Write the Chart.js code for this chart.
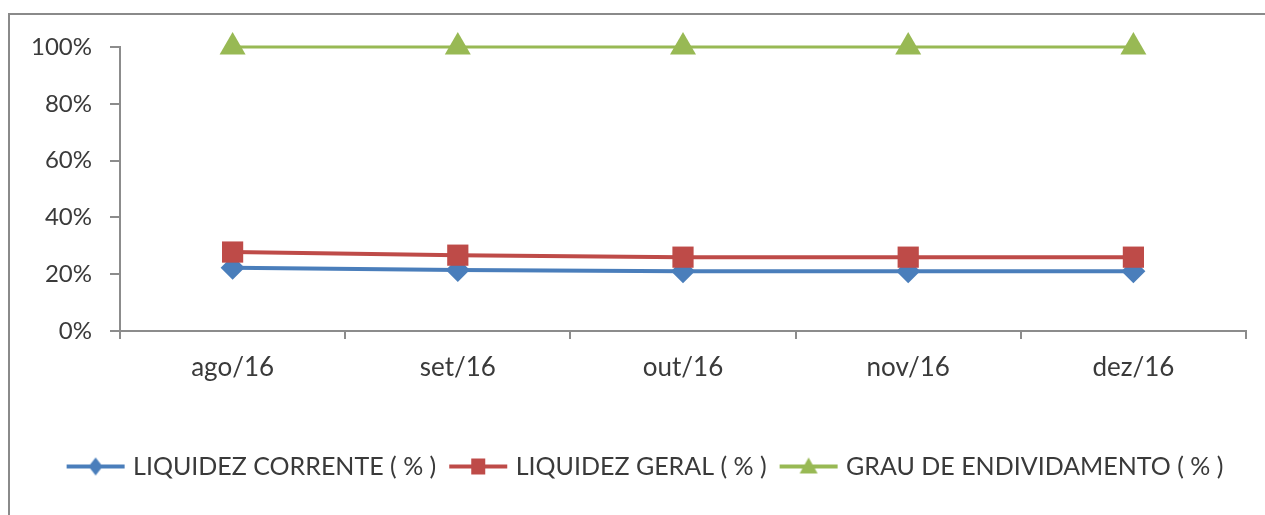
<!DOCTYPE html>
<html><head><meta charset="utf-8">
<script src="https://cdn.jsdelivr.net/npm/chart.js@4.4.1/dist/chart.umd.min.js"></script>
<style>
html,body{margin:0;padding:0;background:#fff;width:1265px;height:515px;overflow:hidden}
#frame{position:absolute;left:8px;top:13px;width:1400px;height:700px;border-left:2px solid #8a8a8a;border-top:2px solid #8a8a8a}
#wrap{position:absolute;left:0;top:0;width:1265px;height:515px}
</style></head><body>
<div id="frame"></div>
<div id="wrap"><canvas id="c" width="1265" height="515"></canvas></div>
<script>
const categories = ['ago/16', 'set/16', 'out/16', 'nov/16', 'dez/16'];
const liquidezCorrente = [22.3, 21.5, 21, 21, 21];
const liquidezGeral = [27.8, 26.7, 26, 26, 26];
const grauEndividamento = [100, 100, 100, 100, 100];
const seriesNames = ['LIQUIDEZ CORRENTE ( % )', 'LIQUIDEZ GERAL ( % )', 'GRAU DE ENDIVIDAMENTO ( % )'];
const yTickValues = [0, 20, 40, 60, 80, 100];

const BLUE = '#4a7ebb', RED = '#be4b48', GREEN = '#98b954';
const AXIS = '#8c8c8c', TXT = '#3a3a3a';
const FONT = "Lato, 'Liberation Sans', Arial, sans-serif";

function makeIcon(color, kind) {
  const c = document.createElement('canvas');
  c.width = 60; c.height = 24;
  const g = c.getContext('2d');
  g.strokeStyle = color; g.fillStyle = color; g.lineWidth = 4;
  g.beginPath(); g.moveTo(1, 12); g.lineTo(59, 12); g.stroke();
  g.beginPath();
  if (kind === 'diamond') {
    g.moveTo(30, 3); g.lineTo(37, 12); g.lineTo(30, 21); g.lineTo(23, 12);
  } else if (kind === 'square') {
    g.rect(23, 4, 14, 16);
  } else {
    g.moveTo(30, 3); g.lineTo(39, 19); g.lineTo(21, 19);
  }
  g.closePath(); g.fill();
  return c;
}
const icons = [makeIcon(BLUE, 'diamond'), makeIcon(RED, 'square'), makeIcon(GREEN, 'triangle')];

// shift the legend block so it is centred like the reference
const legendShift = {
  id: 'legendShift',
  afterLayout(chart) {
    const l = chart.legend;
    if (l) { l.left += 24; l.right += 24; }
  }
};

Chart.defaults.font.family = FONT;
Chart.defaults.font.size = 24;
Chart.defaults.color = TXT;

new Chart(document.getElementById('c'), {
  type: 'line',
  plugins: [legendShift],
  data: {
    labels: categories,
    datasets: [
      { label: seriesNames[0], data: liquidezCorrente, borderColor: BLUE, backgroundColor: BLUE, clip: false,
        borderWidth: 4, pointStyle: 'rectRot', pointRadius: 12, pointBorderWidth: 0, order: 3 },
      { label: seriesNames[1], data: liquidezGeral, borderColor: RED, backgroundColor: RED, clip: false,
        borderWidth: 4, pointStyle: 'rect', pointRadius: 15, pointBorderWidth: 0, order: 2 },
      { label: seriesNames[2], data: grauEndividamento, borderColor: GREEN, backgroundColor: GREEN, clip: false,
        borderWidth: 3, pointStyle: 'triangle', pointRadius: 15, pointBorderWidth: 0, order: 1 }
    ]
  },
  options: {
    responsive: false, animation: false, events: [],
    layout: { padding: { left: 0, right: 19, top: 47, bottom: 26 } },
    plugins: {
      tooltip: { enabled: false },
      legend: {
        position: 'bottom',
        labels: {
          usePointStyle: true, pointStyleWidth: 50, padding: 17, color: TXT,
          font: { size: 25, family: FONT },
          generateLabels: (chart) => chart.data.datasets.map((ds, i) => ({
            text: ds.label, pointStyle: icons[i], datasetIndex: i,
            fillStyle: ds.borderColor, strokeStyle: ds.borderColor, lineWidth: 0, fontColor: TXT
          }))
        }
      }
    },
    scales: {
      x: {
        offset: true,
        grid: { offset: true, drawOnChartArea: false, drawTicks: true, tickLength: 8, color: AXIS, lineWidth: 2 },
        border: { color: AXIS, width: 2 },
        ticks: { color: TXT, font: { size: 26 }, padding: 13, maxRotation: 0 },
        afterFit: (s) => { s.height = 106; }
      },
      y: {
        min: 0, max: 100,
        afterBuildTicks: (s) => { s.ticks = yTickValues.map(v => ({ value: v })); },
        ticks: { color: TXT, font: { size: 24 }, padding: 18, callback: (v) => v + '%' },
        grid: { drawOnChartArea: false, drawTicks: true, tickLength: 10, color: AXIS, lineWidth: 2 },
        border: { color: AXIS, width: 2 },
        afterFit: (s) => { s.width = 120; }
      }
    }
  }
});
</script>
</body></html>
